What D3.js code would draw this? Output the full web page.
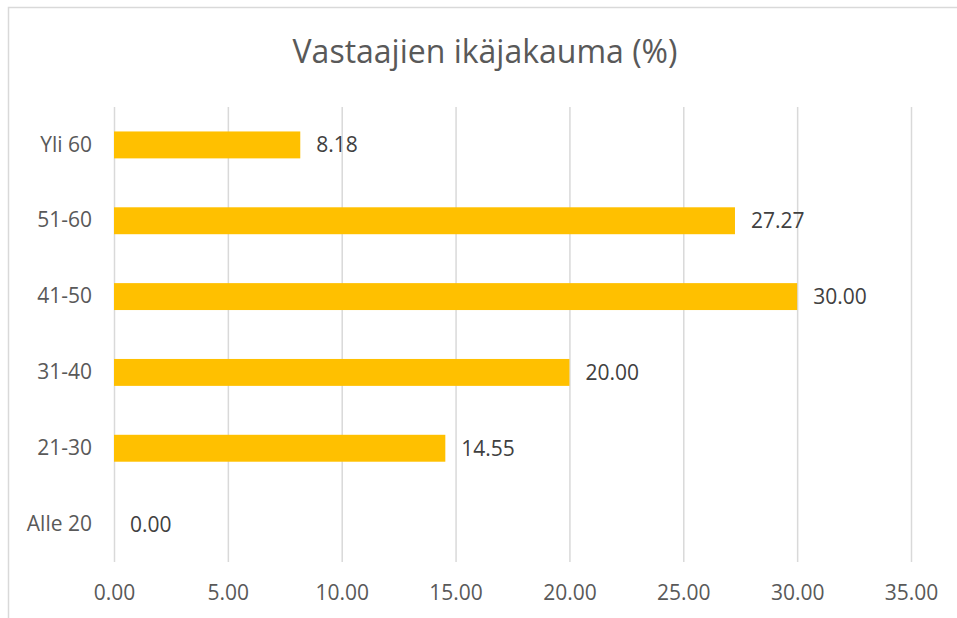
<!DOCTYPE html>
<html>
<head>
<meta charset="utf-8">
<script src="https://d3js.org/d3.v7.min.js"></script>
<style>
  body { margin: 0; background: #fff; }
  svg text { font-family: "Open Sans", sans-serif; }
</style>
</head>
<body>
<div id="chart"></div>
<script>
// data (top to bottom as shown)
var categories = ["Yli 60", "51-60", "41-50", "31-40", "21-30", "Alle 20"];
var values = [8.18, 27.27, 30.00, 20.00, 14.55, 0.00];
var tickValues = [0, 5, 10, 15, 20, 25, 30, 35];
var title = "Vastaajien ikäjakauma (%)";

var svgWidth = 957;
var svgHeight = 618;

var margin = { top: 107, right: 46, bottom: 56, left: 114 };
var width = svgWidth - margin.left - margin.right;
var height = svgHeight - margin.top - margin.bottom;

var svg = d3.select("#chart")
    .append("svg")
    .attr("width", svgWidth)
    .attr("height", svgHeight);

// chart border
svg.append("rect")
    .attr("x", 8.5)
    .attr("y", 7.5)
    .attr("width", svgWidth + 10)
    .attr("height", svgHeight + 10)
    .attr("fill", "none")
    .attr("stroke", "#d9d9d9")
    .attr("stroke-width", 1.5);

svg.append("text")
    .attr("x", 485)
    .attr("y", 63)
    .attr("text-anchor", "middle")
    .attr("font-size", "32px")
    .attr("fill", "#595959")
    .text(title);

var chart = svg.append("g")
    .attr("transform", `translate(${margin.left}, ${margin.top})`);

var x = d3.scaleLinear()
    .domain([0, 35])
    .range([0, width]);

var y = d3.scaleBand()
    .domain(categories)
    .range([0, height])
    .paddingInner(0.645)
    .paddingOuter(0.3225);

// gridlines
var grid = chart.append("g")
    .attr("transform", `translate(0, ${height})`)
    .call(d3.axisBottom(x).tickValues(tickValues).tickSize(-height).tickFormat(""));
grid.select(".domain").remove();
grid.selectAll("line")
    .attr("stroke", "#d9d9d9")
    .attr("stroke-width", 1.5);

// x axis labels
var xAxisG = chart.append("g")
    .attr("transform", `translate(0, ${height})`)
    .call(d3.axisBottom(x).tickValues(tickValues).tickSize(0).tickPadding(23).tickFormat(d3.format(".2f")));
xAxisG.select(".domain").remove();
xAxisG.selectAll("text")
    .attr("font-size", "21px")
    .attr("font-family", "Open Sans")
    .attr("fill", "#595959");

// y axis labels
var yAxisG = chart.append("g")
    .call(d3.axisLeft(y).tickSize(0).tickPadding(22));
yAxisG.select(".domain").remove();
yAxisG.selectAll("text")
    .attr("font-size", "21px")
    .attr("font-family", "Open Sans")
    .attr("fill", "#595959");

// bars
chart.selectAll(".bar")
    .data(values)
    .enter()
    .append("rect")
    .attr("class", "bar")
    .attr("x", x(0))
    .attr("y", (d, i) => y(categories[i]))
    .attr("width", d => x(d) - x(0))
    .attr("height", y.bandwidth())
    .attr("fill", "#ffc000");

// data labels
chart.selectAll(".label")
    .data(values)
    .enter()
    .append("text")
    .attr("class", "label")
    .attr("x", d => x(d) + 16)
    .attr("y", (d, i) => y(categories[i]) + y.bandwidth() / 2)
    .attr("dy", "0.36em")
    .attr("font-size", "21px")
    .attr("fill", "#404040")
    .text(d => d3.format(".2f")(d));
</script>
</body>
</html>
